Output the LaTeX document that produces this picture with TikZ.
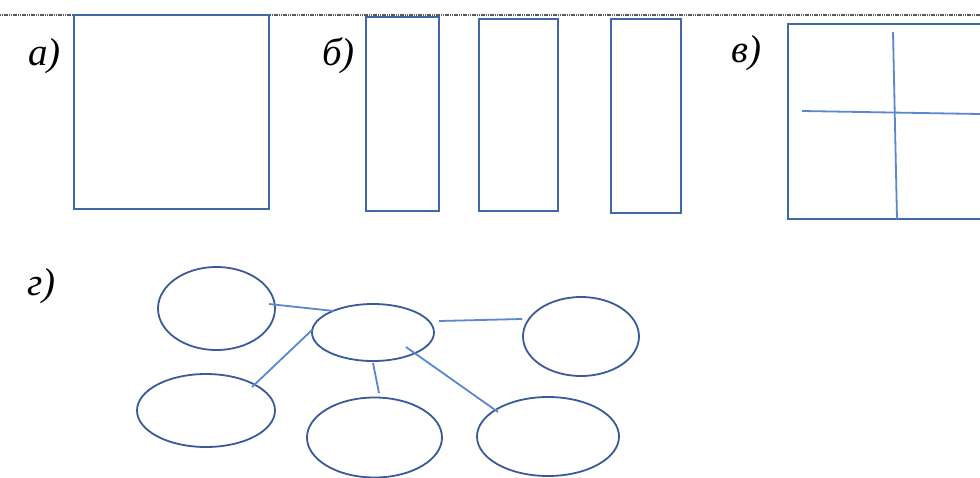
\documentclass[tikz,border=0pt]{standalone}
\usepackage{fontspec}
\setmainfont{Liberation Serif}
\usetikzlibrary{shapes.geometric}
\definecolor{boxblue}{HTML}{4169AA}
\definecolor{ellblue}{HTML}{3A5A98}
\definecolor{linkblue}{HTML}{5B86D0}
\tikzset{
  box/.style={draw=boxblue, line width=1.8pt, rectangle, inner sep=0pt},
  oval/.style={draw=ellblue, line width=1.8pt, ellipse, inner sep=0pt},
  link/.style={draw=linkblue, line width=1.8pt},
  lab/.style={anchor=base west, inner sep=0pt, font=\fontsize{39}{41}\selectfont\itshape},
}
\begin{document}
\begin{tikzpicture}[x=1pt,y=-1pt]
\useasboundingbox (0,0) rectangle (980,477);
\fill[white] (0,0) rectangle (980,477);
% top rule
\draw[black!65, line width=2.6pt, dash pattern=on 1.2pt off 0.6pt] (0,15) -- (980,15);
% labels
\node[lab] (la) at (28,65) {а)};
\node[lab] (lb) at (322,65) {б)};
\node[lab] (lv) at (731,62) {в)};
\node[lab] (lg) at (27,295) {г)};
% a) square
\node[box, minimum width=195pt, minimum height=194pt] (sqa) at (171.5,112) {};
% b) three strips
\node[box, minimum width=73pt, minimum height=194pt] (b1) at (402.5,114) {};
\node[box, minimum width=79pt, minimum height=192pt] (b2) at (518.5,115) {};
\node[box, minimum width=70pt, minimum height=194pt] (b3) at (646,116) {};
% v) square with cross (clipped at right)
\begin{scope}
\clip (0,0) rectangle (980,477);
\node[box, minimum width=220pt, minimum height=195pt] (sqv) at (898,121.5) {};
\coordinate (vt) at (893,32);
\coordinate (vb) at (897,219);
\coordinate (hl) at (802,111);
\coordinate (hr) at (980,114);
\draw[link] (vt) -- (vb);
\draw[link] (hl) -- (hr);
\end{scope}
% g) ellipses
\node[oval, minimum width=117pt, minimum height=83pt] (e1) at (216.5,308.5) {};
\node[oval, minimum width=122pt, minimum height=57pt] (ec) at (373,332.5) {};
\node[oval, minimum width=138pt, minimum height=73pt] (e2) at (206,410.5) {};
\node[oval, minimum width=135pt, minimum height=80pt] (e3) at (374.5,437.5) {};
\node[oval, minimum width=116pt, minimum height=79pt] (e4) at (581,336.5) {};
\node[oval, minimum width=142pt, minimum height=79pt] (e5) at (548,436.5) {};
% connectors
\coordinate (c1a) at (269,304);
\coordinate (c1b) at (334,311);
\coordinate (c2a) at (312,330);
\coordinate (c2b) at (252,387);
\coordinate (c3a) at (373,363);
\coordinate (c3b) at (379,393);
\coordinate (c4a) at (439,321);
\coordinate (c4b) at (522,319);
\coordinate (c5a) at (406,347);
\coordinate (c5b) at (498,412);
\draw[link] (c1a) -- (c1b);
\draw[link] (c2a) -- (c2b);
\draw[link] (c3a) -- (c3b);
\draw[link] (c4a) -- (c4b);
\draw[link] (c5a) -- (c5b);
\end{tikzpicture}
\end{document}
